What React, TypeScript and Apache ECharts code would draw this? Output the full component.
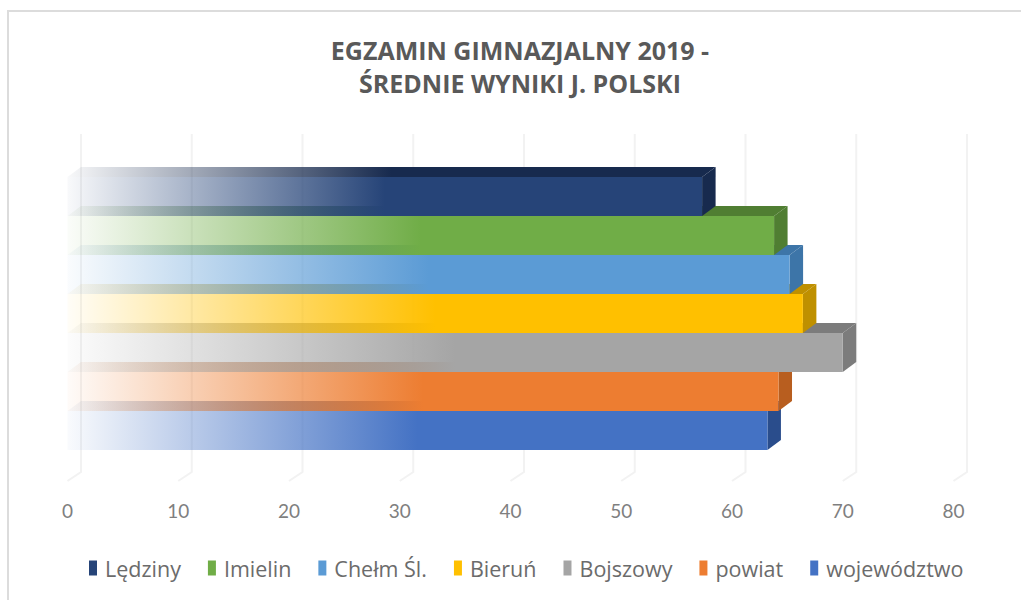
import React, { useEffect, useRef } from "react";
import * as echarts from "echarts";

const names = ["Lędziny", "Imielin", "Chełm Śl.", "Bieruń", "Bojszowy", "powiat", "województwo"];
const values = [57.3, 63.8, 65.2, 66.4, 70.0, 64.2, 63.2];
const ticks = [0, 10, 20, 30, 40, 50, 60, 70, 80];

const frontColors = ["38,68,120", "112,173,71", "91,155,213", "255,192,0", "165,165,165", "237,125,49", "68,114,196"];
const sideColors = ["23,42,78", "80,126,50", "61,117,168", "191,144,0", "124,124,124", "184,94,31", "42,77,140"];

const DX = 13.5;
const DY = -10;

const fade = (rgb: string) =>
  new echarts.graphic.LinearGradient(0, 0, 1, 0, [
    { offset: 0, color: `rgba(${rgb},0.03)` },
    { offset: 0.5, color: `rgba(${rgb},1)` },
    { offset: 1, color: `rgba(${rgb},1)` },
  ]);

export default function App() {
  const ref = useRef<HTMLDivElement>(null);
  useEffect(() => {
    document.body.style.margin = "0";
    const chart = echarts.init(ref.current!, null, { renderer: "svg" });
    const barSeries: any[] = names.map((name, i) => ({
      name,
      type: "custom",
      coordinateSystem: "cartesian2d",
      itemStyle: { color: `rgb(${frontColors[i]})` },
      encode: { x: 0, y: 1 },
      data: [[values[i], i]],
      z: 20 - i,
      renderItem: (_p: any, api: any) => {
        const end = api.coord([api.value(0), api.value(1)]);
        const start = api.coord([0, api.value(1)]);
        const h = api.size([0, 1])[1];
        const top = end[1] - h / 2;
        const bot = end[1] + h / 2;
        const x0 = start[0];
        const x1 = end[0];
        return {
          type: "group",
          children: [
            {
              type: "polygon",
              shape: { points: [[x0, top], [x0 + DX, top + DY], [x1 + DX, top + DY], [x1, top]] },
              style: { fill: fade(sideColors[i]) },
            },
            {
              type: "polygon",
              shape: { points: [[x1, top], [x1 + DX, top + DY], [x1 + DX, bot + DY], [x1, bot]] },
              style: { fill: `rgb(${sideColors[i]})` },
            },
            {
              type: "rect",
              shape: { x: x0, y: top, width: x1 - x0, height: h },
              style: { fill: fade(frontColors[i]) },
            },
          ],
        };
      },
    }));
    const gridSeries = {
      name: "siatka",
      type: "custom",
      coordinateSystem: "cartesian2d",
      encode: { x: 0 },
      silent: true,
      z: 1,
      data: ticks.map((t) => [t, 0]),
      renderItem: (p: any, api: any) => {
        const x = api.coord([api.value(0), 0])[0];
        const top = p.coordSys.y;
        const bot = p.coordSys.y + p.coordSys.height;
        return {
          type: "polyline",
          shape: { points: [[x + DX, top - 43], [x + DX, bot + 22], [x, bot + 31]] },
          style: { fill: "none", stroke: "#f2f2f2", lineWidth: 2 },
        };
      },
    };
    chart.setOption({
      animation: false,
      backgroundColor: "#ffffff",
      textStyle: { fontFamily: "Open Sans" },
      title: {
        text: "EGZAMIN GIMNAZJALNY 2019 -\nŚREDNIE WYNIKI J. POLSKI",
        left: 515,
        top: 28,
        textAlign: "center",
        textStyle: { fontFamily: "Open Sans", fontSize: 25, fontWeight: "bold", color: "#595959", lineHeight: 33 },
      },
      graphic: [
        {
          type: "rect",
          z: 0,
          shape: { x: 8, y: 11, width: 1040, height: 620 },
          style: { fill: "none", stroke: "#dcdcdc", lineWidth: 2 },
        },
      ],
      grid: { left: 67.5, top: 177, width: 886, height: 273 },
      xAxis: {
        type: "value",
        min: 0,
        max: 80,
        interval: 10,
        axisLine: { show: false },
        axisTick: { show: false },
        splitLine: { show: false },
        axisLabel: { color: "#7f7f7f", fontSize: 19, fontFamily: "Lato", margin: 51 },
      },
      yAxis: { type: "category", data: names, inverse: true, show: false },
      legend: {
        data: names,
        left: 84,
        top: 552,
        icon: "rect",
        itemWidth: 8,
        itemHeight: 15,
        itemGap: 27,
        textStyle: { color: "#6b6b6b", fontSize: 21.5, fontFamily: "Open Sans", padding: [0, 0, 0, 3] },
      },
      series: [gridSeries, ...barSeries],
    });
    return () => chart.dispose();
  }, []);
  return <div ref={ref} style={{ width: 1021, height: 600 }} />;
}
